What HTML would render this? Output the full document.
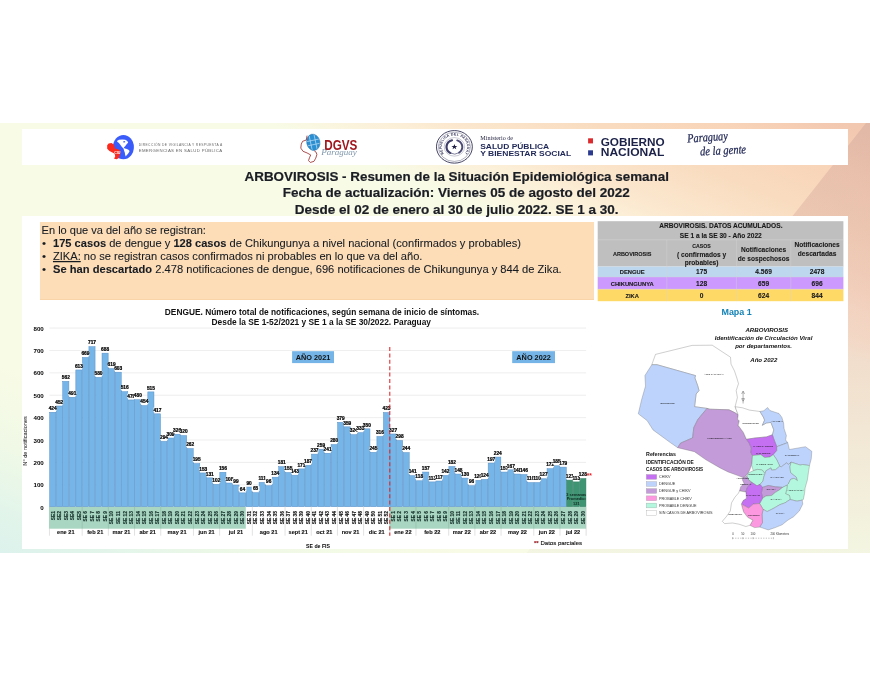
<!DOCTYPE html>
<html lang="es"><head><meta charset="utf-8"><title>ARBOVIROSIS - Resumen de la Situación Epidemiológica semanal</title>
<style>
html,body{margin:0;padding:0;background:#fff;}
body{width:870px;height:675px;position:relative;overflow:hidden;font-family:"Liberation Sans",sans-serif;}
.abs{position:absolute;}
#band{left:0;top:123px;width:870px;height:430px;background:linear-gradient(22deg,#dcf2ec 0%,#e3f5ea 6%,#f0f9e6 14%,#f8fbe6 24%,#f8fbe6 69%,#fbf3dc 73%,#fcefd8 75.4%,#fbe8cf 78%,#f9dcc0 85.6%,#f8d3b7 93%,#f2c8b0 98.6%);}
#tri{left:0;top:123px;width:870px;height:430px;background:linear-gradient(180deg,rgba(188,148,145,.30) 0%,rgba(225,145,137,.30) 50%,rgba(200,200,190,.10) 100%);clip-path:polygon(866px 0,870px 0,870px 430px,526.5px 430px);}
#hdr{left:22px;top:129px;width:826px;height:35.5px;background:#fff;}
#panel{left:22px;top:216px;width:826px;height:333px;background:#fff;}
#peach{left:40px;top:221.5px;width:554px;height:78.5px;background:#fcddb7;border-bottom:1px solid #f9d4a9;box-sizing:border-box;}
svg text{font-family:"Liberation Sans",sans-serif;}
.tt{font-size:13.45px;font-weight:bold;fill:#1a1d24;stroke:#1a1d24;stroke-width:0.2px;}
.pp{font-size:11.6px;fill:#171b22;stroke:#171b22;stroke-width:0.08px;}
.l1a{font-size:3.3px;fill:#6a6a6a;}
.l1b{font-size:4.3px;fill:#666;}
.dg{font-size:14.6px;font-weight:bold;fill:#a1161e;}
.dgp{font-size:7.4px;font-style:italic;fill:#7f97ab;font-family:"Liberation Serif",serif;}
.seal{font-size:3.3px;font-weight:bold;fill:#2a2a52;letter-spacing:0.22px;}
.mn{font-size:6.1px;fill:#2a2a48;font-family:"Liberation Serif",serif;}
.sp{font-size:7.7px;font-weight:bold;fill:#1f2757;}
.gb{font-size:10.3px;font-weight:bold;fill:#1b2148;}
.pg{font-size:12.3px;font-style:italic;fill:#1d2452;stroke:#1d2452;stroke-width:0.25px;font-family:"Liberation Serif",serif;}
.dl{font-size:2.45px;fill:#111;}
.mt{font-size:6.1px;font-weight:bold;font-style:italic;fill:#111;}
.lg1{font-size:5px;font-weight:bold;fill:#111;}
.lg2{font-size:4.7px;font-weight:bold;fill:#111;}
.lg3{font-size:3.75px;fill:#333;}
.sc{font-size:2.8px;fill:#333;}
.t1{stroke:#1a1a1a;stroke-width:0.1px;font-size:6.6px;font-weight:bold;fill:#1a1a1a;}
.t2{stroke:#1a1a1a;stroke-width:0.1px;font-size:5.5px;font-weight:bold;fill:#1a1a1a;}
.t3{stroke:#1a1a1a;stroke-width:0.1px;font-size:5.2px;font-weight:bold;fill:#1a1a1a;}
.t4{stroke:#1a1a1a;stroke-width:0.1px;font-size:5.8px;font-weight:bold;fill:#1a1a1a;}
.mp{font-size:8.95px;font-weight:bold;fill:#1583b5;}
.yl{font-size:6.2px;font-weight:bold;fill:#000;}
.vl{font-size:4.8px;font-weight:bold;fill:#000;stroke:#000;stroke-width:0.22px;}
.se{font-size:4.9px;font-weight:bold;fill:#15302a;stroke:#15302a;stroke-width:0.15px;}
.ml{font-size:5.6px;font-weight:bold;fill:#111;stroke:#111;stroke-width:0.1px;}
.yr{font-size:7.3px;font-weight:bold;fill:#111;}
.ct{font-size:8.35px;font-weight:bold;fill:#111;}
.ax{font-size:5.6px;fill:#000;}
.dp{font-size:6.05px;fill:#111;stroke:#111;stroke-width:0.12px;}
.pm{font-size:3.9px;font-weight:bold;fill:#0c2a20;}
</style></head><body>
<div class="abs" id="band"></div><div class="abs" id="tri"></div>
<div class="abs" id="hdr"></div>
<div class="abs" id="panel"></div>
<div class="abs" id="peach"></div>
<svg class="abs" style="left:0;top:0" width="870" height="675" viewBox="0 0 870 675">
<line x1="49.45" y1="484.81" x2="586.14" y2="484.81" stroke="#e3e3e3" stroke-width="0.6"/>
<line x1="49.45" y1="462.42" x2="586.14" y2="462.42" stroke="#e3e3e3" stroke-width="0.6"/>
<line x1="49.45" y1="440.03" x2="586.14" y2="440.03" stroke="#e3e3e3" stroke-width="0.6"/>
<line x1="49.45" y1="417.64" x2="586.14" y2="417.64" stroke="#e3e3e3" stroke-width="0.6"/>
<line x1="49.45" y1="395.25" x2="586.14" y2="395.25" stroke="#e3e3e3" stroke-width="0.6"/>
<line x1="49.45" y1="372.86" x2="586.14" y2="372.86" stroke="#e3e3e3" stroke-width="0.6"/>
<line x1="49.45" y1="350.47" x2="586.14" y2="350.47" stroke="#e3e3e3" stroke-width="0.6"/>
<line x1="49.45" y1="328.08" x2="586.14" y2="328.08" stroke="#e3e3e3" stroke-width="0.6"/>
<text x="43.8" y="509.75" text-anchor="end" class="yl">0</text>
<text x="43.8" y="487.36" text-anchor="end" class="yl">100</text>
<text x="43.8" y="464.97" text-anchor="end" class="yl">200</text>
<text x="43.8" y="442.58" text-anchor="end" class="yl">300</text>
<text x="43.8" y="420.19" text-anchor="end" class="yl">400</text>
<text x="43.8" y="397.80" text-anchor="end" class="yl">500</text>
<text x="43.8" y="375.41" text-anchor="end" class="yl">600</text>
<text x="43.8" y="353.02" text-anchor="end" class="yl">700</text>
<text x="43.8" y="330.63" text-anchor="end" class="yl">800</text>
<rect x="49.45" y="506.70" width="196.35" height="22" fill="#a9d6c2"/>
<rect x="389.79" y="506.70" width="196.35" height="22" fill="#a9d6c2"/>
<rect x="49.65" y="412.27" width="6.14" height="94.43" fill="#75b5e7" stroke="#5a8fc6" stroke-width="0.5"/>
<rect x="56.20" y="406.00" width="6.14" height="100.70" fill="#75b5e7" stroke="#5a8fc6" stroke-width="0.5"/>
<rect x="62.74" y="381.37" width="6.14" height="125.33" fill="#75b5e7" stroke="#5a8fc6" stroke-width="0.5"/>
<rect x="69.29" y="397.27" width="6.14" height="109.43" fill="#75b5e7" stroke="#5a8fc6" stroke-width="0.5"/>
<rect x="75.83" y="369.95" width="6.14" height="136.75" fill="#75b5e7" stroke="#5a8fc6" stroke-width="0.5"/>
<rect x="82.38" y="357.41" width="6.14" height="149.29" fill="#75b5e7" stroke="#5a8fc6" stroke-width="0.5"/>
<rect x="88.92" y="346.66" width="6.14" height="160.04" fill="#75b5e7" stroke="#5a8fc6" stroke-width="0.5"/>
<rect x="95.47" y="377.34" width="6.14" height="129.36" fill="#75b5e7" stroke="#5a8fc6" stroke-width="0.5"/>
<rect x="102.01" y="353.16" width="6.14" height="153.54" fill="#75b5e7" stroke="#5a8fc6" stroke-width="0.5"/>
<rect x="108.56" y="368.61" width="6.14" height="138.09" fill="#75b5e7" stroke="#5a8fc6" stroke-width="0.5"/>
<rect x="115.10" y="372.19" width="6.14" height="134.51" fill="#75b5e7" stroke="#5a8fc6" stroke-width="0.5"/>
<rect x="121.65" y="391.67" width="6.14" height="115.03" fill="#75b5e7" stroke="#5a8fc6" stroke-width="0.5"/>
<rect x="128.19" y="399.95" width="6.14" height="106.75" fill="#75b5e7" stroke="#5a8fc6" stroke-width="0.5"/>
<rect x="134.73" y="399.73" width="6.14" height="106.97" fill="#75b5e7" stroke="#5a8fc6" stroke-width="0.5"/>
<rect x="141.28" y="405.55" width="6.14" height="101.15" fill="#75b5e7" stroke="#5a8fc6" stroke-width="0.5"/>
<rect x="147.82" y="391.89" width="6.14" height="114.81" fill="#75b5e7" stroke="#5a8fc6" stroke-width="0.5"/>
<rect x="154.37" y="413.83" width="6.14" height="92.87" fill="#75b5e7" stroke="#5a8fc6" stroke-width="0.5"/>
<rect x="160.91" y="441.37" width="6.14" height="65.33" fill="#75b5e7" stroke="#5a8fc6" stroke-width="0.5"/>
<rect x="167.46" y="438.01" width="6.14" height="68.69" fill="#75b5e7" stroke="#5a8fc6" stroke-width="0.5"/>
<rect x="174.00" y="434.21" width="6.14" height="72.49" fill="#75b5e7" stroke="#5a8fc6" stroke-width="0.5"/>
<rect x="180.55" y="435.55" width="6.14" height="71.15" fill="#75b5e7" stroke="#5a8fc6" stroke-width="0.5"/>
<rect x="187.09" y="448.54" width="6.14" height="58.16" fill="#75b5e7" stroke="#5a8fc6" stroke-width="0.5"/>
<rect x="193.64" y="463.54" width="6.14" height="43.16" fill="#75b5e7" stroke="#5a8fc6" stroke-width="0.5"/>
<rect x="200.19" y="472.94" width="6.14" height="33.76" fill="#75b5e7" stroke="#5a8fc6" stroke-width="0.5"/>
<rect x="206.73" y="477.87" width="6.14" height="28.83" fill="#75b5e7" stroke="#5a8fc6" stroke-width="0.5"/>
<rect x="213.27" y="484.36" width="6.14" height="22.34" fill="#75b5e7" stroke="#5a8fc6" stroke-width="0.5"/>
<rect x="219.82" y="472.27" width="6.14" height="34.43" fill="#75b5e7" stroke="#5a8fc6" stroke-width="0.5"/>
<rect x="226.37" y="483.02" width="6.14" height="23.68" fill="#75b5e7" stroke="#5a8fc6" stroke-width="0.5"/>
<rect x="232.91" y="485.03" width="6.14" height="21.67" fill="#75b5e7" stroke="#5a8fc6" stroke-width="0.5"/>
<rect x="239.45" y="492.87" width="6.14" height="13.83" fill="#75b5e7" stroke="#5a8fc6" stroke-width="0.5"/>
<rect x="246.00" y="487.05" width="6.14" height="19.65" fill="#75b5e7" stroke="#5a8fc6" stroke-width="0.5"/>
<rect x="252.55" y="492.65" width="6.14" height="14.05" fill="#75b5e7" stroke="#5a8fc6" stroke-width="0.5"/>
<rect x="259.09" y="482.35" width="6.14" height="24.35" fill="#75b5e7" stroke="#5a8fc6" stroke-width="0.5"/>
<rect x="265.63" y="485.71" width="6.14" height="20.99" fill="#75b5e7" stroke="#5a8fc6" stroke-width="0.5"/>
<rect x="272.18" y="477.20" width="6.14" height="29.50" fill="#75b5e7" stroke="#5a8fc6" stroke-width="0.5"/>
<rect x="278.72" y="466.67" width="6.14" height="40.03" fill="#75b5e7" stroke="#5a8fc6" stroke-width="0.5"/>
<rect x="285.27" y="472.50" width="6.14" height="34.20" fill="#75b5e7" stroke="#5a8fc6" stroke-width="0.5"/>
<rect x="291.81" y="475.18" width="6.14" height="31.52" fill="#75b5e7" stroke="#5a8fc6" stroke-width="0.5"/>
<rect x="298.36" y="468.91" width="6.14" height="37.79" fill="#75b5e7" stroke="#5a8fc6" stroke-width="0.5"/>
<rect x="304.90" y="465.33" width="6.14" height="41.37" fill="#75b5e7" stroke="#5a8fc6" stroke-width="0.5"/>
<rect x="311.45" y="454.14" width="6.14" height="52.56" fill="#75b5e7" stroke="#5a8fc6" stroke-width="0.5"/>
<rect x="317.99" y="449.21" width="6.14" height="57.49" fill="#75b5e7" stroke="#5a8fc6" stroke-width="0.5"/>
<rect x="324.54" y="453.24" width="6.14" height="53.46" fill="#75b5e7" stroke="#5a8fc6" stroke-width="0.5"/>
<rect x="331.08" y="444.51" width="6.14" height="62.19" fill="#75b5e7" stroke="#5a8fc6" stroke-width="0.5"/>
<rect x="337.63" y="422.34" width="6.14" height="84.36" fill="#75b5e7" stroke="#5a8fc6" stroke-width="0.5"/>
<rect x="344.17" y="426.82" width="6.14" height="79.88" fill="#75b5e7" stroke="#5a8fc6" stroke-width="0.5"/>
<rect x="350.72" y="434.66" width="6.14" height="72.04" fill="#75b5e7" stroke="#5a8fc6" stroke-width="0.5"/>
<rect x="357.26" y="432.64" width="6.14" height="74.06" fill="#75b5e7" stroke="#5a8fc6" stroke-width="0.5"/>
<rect x="363.81" y="428.83" width="6.14" height="77.87" fill="#75b5e7" stroke="#5a8fc6" stroke-width="0.5"/>
<rect x="370.35" y="452.34" width="6.14" height="54.36" fill="#75b5e7" stroke="#5a8fc6" stroke-width="0.5"/>
<rect x="376.90" y="436.45" width="6.14" height="70.25" fill="#75b5e7" stroke="#5a8fc6" stroke-width="0.5"/>
<rect x="383.44" y="412.49" width="6.14" height="94.21" fill="#75b5e7" stroke="#5a8fc6" stroke-width="0.5"/>
<rect x="389.99" y="433.98" width="6.14" height="72.72" fill="#75b5e7" stroke="#5a8fc6" stroke-width="0.5"/>
<rect x="396.53" y="440.48" width="6.14" height="66.22" fill="#75b5e7" stroke="#5a8fc6" stroke-width="0.5"/>
<rect x="403.08" y="452.57" width="6.14" height="54.13" fill="#75b5e7" stroke="#5a8fc6" stroke-width="0.5"/>
<rect x="409.62" y="475.63" width="6.14" height="31.07" fill="#75b5e7" stroke="#5a8fc6" stroke-width="0.5"/>
<rect x="416.17" y="480.78" width="6.14" height="25.92" fill="#75b5e7" stroke="#5a8fc6" stroke-width="0.5"/>
<rect x="422.71" y="472.05" width="6.14" height="34.65" fill="#75b5e7" stroke="#5a8fc6" stroke-width="0.5"/>
<rect x="429.26" y="481.90" width="6.14" height="24.80" fill="#75b5e7" stroke="#5a8fc6" stroke-width="0.5"/>
<rect x="435.80" y="481.00" width="6.14" height="25.70" fill="#75b5e7" stroke="#5a8fc6" stroke-width="0.5"/>
<rect x="442.35" y="475.41" width="6.14" height="31.29" fill="#75b5e7" stroke="#5a8fc6" stroke-width="0.5"/>
<rect x="448.89" y="466.45" width="6.14" height="40.25" fill="#75b5e7" stroke="#5a8fc6" stroke-width="0.5"/>
<rect x="455.44" y="474.06" width="6.14" height="32.64" fill="#75b5e7" stroke="#5a8fc6" stroke-width="0.5"/>
<rect x="461.98" y="478.09" width="6.14" height="28.61" fill="#75b5e7" stroke="#5a8fc6" stroke-width="0.5"/>
<rect x="468.53" y="485.71" width="6.14" height="20.99" fill="#75b5e7" stroke="#5a8fc6" stroke-width="0.5"/>
<rect x="475.07" y="480.33" width="6.14" height="26.37" fill="#75b5e7" stroke="#5a8fc6" stroke-width="0.5"/>
<rect x="481.62" y="479.44" width="6.14" height="27.26" fill="#75b5e7" stroke="#5a8fc6" stroke-width="0.5"/>
<rect x="488.16" y="463.09" width="6.14" height="43.61" fill="#75b5e7" stroke="#5a8fc6" stroke-width="0.5"/>
<rect x="494.71" y="457.05" width="6.14" height="49.65" fill="#75b5e7" stroke="#5a8fc6" stroke-width="0.5"/>
<rect x="501.25" y="472.05" width="6.14" height="34.65" fill="#75b5e7" stroke="#5a8fc6" stroke-width="0.5"/>
<rect x="507.80" y="469.81" width="6.14" height="36.89" fill="#75b5e7" stroke="#5a8fc6" stroke-width="0.5"/>
<rect x="514.35" y="474.06" width="6.14" height="32.64" fill="#75b5e7" stroke="#5a8fc6" stroke-width="0.5"/>
<rect x="520.89" y="474.51" width="6.14" height="32.19" fill="#75b5e7" stroke="#5a8fc6" stroke-width="0.5"/>
<rect x="527.44" y="482.57" width="6.14" height="24.13" fill="#75b5e7" stroke="#5a8fc6" stroke-width="0.5"/>
<rect x="533.98" y="482.57" width="6.14" height="24.13" fill="#75b5e7" stroke="#5a8fc6" stroke-width="0.5"/>
<rect x="540.53" y="478.76" width="6.14" height="27.94" fill="#75b5e7" stroke="#5a8fc6" stroke-width="0.5"/>
<rect x="547.07" y="468.69" width="6.14" height="38.01" fill="#75b5e7" stroke="#5a8fc6" stroke-width="0.5"/>
<rect x="553.62" y="465.78" width="6.14" height="40.92" fill="#75b5e7" stroke="#5a8fc6" stroke-width="0.5"/>
<rect x="560.16" y="467.12" width="6.14" height="39.58" fill="#75b5e7" stroke="#5a8fc6" stroke-width="0.5"/>
<rect x="566.71" y="480.11" width="6.14" height="26.59" fill="#3e9473" stroke="#357f66" stroke-width="0.5"/>
<rect x="573.25" y="481.90" width="6.14" height="24.80" fill="#3e9473" stroke="#357f66" stroke-width="0.5"/>
<rect x="579.80" y="478.54" width="6.14" height="28.16" fill="#3e9473" stroke="#357f66" stroke-width="0.5"/>
<rect x="48.82" y="405.97" width="7.8" height="4.7" fill="#fff"/><text x="52.72" y="409.97" text-anchor="middle" class="vl">424</text>
<rect x="55.37" y="399.70" width="7.8" height="4.7" fill="#fff"/><text x="59.27" y="403.70" text-anchor="middle" class="vl">452</text>
<rect x="61.91" y="375.07" width="7.8" height="4.7" fill="#fff"/><text x="65.81" y="379.07" text-anchor="middle" class="vl">562</text>
<rect x="68.46" y="390.97" width="7.8" height="4.7" fill="#fff"/><text x="72.36" y="394.97" text-anchor="middle" class="vl">491</text>
<rect x="75.00" y="363.65" width="7.8" height="4.7" fill="#fff"/><text x="78.90" y="367.65" text-anchor="middle" class="vl">613</text>
<rect x="81.55" y="351.11" width="7.8" height="4.7" fill="#fff"/><text x="85.45" y="355.11" text-anchor="middle" class="vl">669</text>
<rect x="88.09" y="340.36" width="7.8" height="4.7" fill="#fff"/><text x="91.99" y="344.36" text-anchor="middle" class="vl">717</text>
<rect x="94.64" y="371.04" width="7.8" height="4.7" fill="#fff"/><text x="98.54" y="375.04" text-anchor="middle" class="vl">580</text>
<rect x="101.18" y="346.86" width="7.8" height="4.7" fill="#fff"/><text x="105.08" y="350.86" text-anchor="middle" class="vl">688</text>
<rect x="107.73" y="362.31" width="7.8" height="4.7" fill="#fff"/><text x="111.63" y="366.31" text-anchor="middle" class="vl">619</text>
<rect x="114.27" y="365.89" width="7.8" height="4.7" fill="#fff"/><text x="118.17" y="369.89" text-anchor="middle" class="vl">603</text>
<rect x="120.82" y="385.37" width="7.8" height="4.7" fill="#fff"/><text x="124.72" y="389.37" text-anchor="middle" class="vl">516</text>
<rect x="127.36" y="393.65" width="7.8" height="4.7" fill="#fff"/><text x="131.26" y="397.65" text-anchor="middle" class="vl">479</text>
<rect x="133.91" y="393.43" width="7.8" height="4.7" fill="#fff"/><text x="137.81" y="397.43" text-anchor="middle" class="vl">480</text>
<rect x="140.45" y="399.25" width="7.8" height="4.7" fill="#fff"/><text x="144.35" y="403.25" text-anchor="middle" class="vl">454</text>
<rect x="147.00" y="385.59" width="7.8" height="4.7" fill="#fff"/><text x="150.90" y="389.59" text-anchor="middle" class="vl">515</text>
<rect x="153.54" y="407.53" width="7.8" height="4.7" fill="#fff"/><text x="157.44" y="411.53" text-anchor="middle" class="vl">417</text>
<rect x="160.09" y="435.07" width="7.8" height="4.7" fill="#fff"/><text x="163.99" y="439.07" text-anchor="middle" class="vl">294</text>
<rect x="166.63" y="431.71" width="7.8" height="4.7" fill="#fff"/><text x="170.53" y="435.71" text-anchor="middle" class="vl">309</text>
<rect x="173.18" y="427.91" width="7.8" height="4.7" fill="#fff"/><text x="177.08" y="431.91" text-anchor="middle" class="vl">326</text>
<rect x="179.72" y="429.25" width="7.8" height="4.7" fill="#fff"/><text x="183.62" y="433.25" text-anchor="middle" class="vl">320</text>
<rect x="186.27" y="442.24" width="7.8" height="4.7" fill="#fff"/><text x="190.17" y="446.24" text-anchor="middle" class="vl">262</text>
<rect x="192.81" y="457.24" width="7.8" height="4.7" fill="#fff"/><text x="196.71" y="461.24" text-anchor="middle" class="vl">195</text>
<rect x="199.36" y="466.64" width="7.8" height="4.7" fill="#fff"/><text x="203.26" y="470.64" text-anchor="middle" class="vl">153</text>
<rect x="205.90" y="471.57" width="7.8" height="4.7" fill="#fff"/><text x="209.80" y="475.57" text-anchor="middle" class="vl">131</text>
<rect x="212.45" y="478.06" width="7.8" height="4.7" fill="#fff"/><text x="216.35" y="482.06" text-anchor="middle" class="vl">102</text>
<rect x="218.99" y="465.97" width="7.8" height="4.7" fill="#fff"/><text x="222.89" y="469.97" text-anchor="middle" class="vl">156</text>
<rect x="225.54" y="476.72" width="7.8" height="4.7" fill="#fff"/><text x="229.44" y="480.72" text-anchor="middle" class="vl">108</text>
<rect x="232.08" y="478.73" width="7.8" height="4.7" fill="#fff"/><text x="235.98" y="482.73" text-anchor="middle" class="vl">99</text>
<rect x="238.63" y="486.57" width="7.8" height="4.7" fill="#fff"/><text x="242.53" y="490.57" text-anchor="middle" class="vl">64</text>
<rect x="245.17" y="480.75" width="7.8" height="4.7" fill="#fff"/><text x="249.07" y="484.75" text-anchor="middle" class="vl">90</text>
<rect x="251.72" y="486.35" width="7.8" height="4.7" fill="#fff"/><text x="255.62" y="490.35" text-anchor="middle" class="vl">65</text>
<rect x="258.26" y="476.05" width="7.8" height="4.7" fill="#fff"/><text x="262.16" y="480.05" text-anchor="middle" class="vl">111</text>
<rect x="264.81" y="479.41" width="7.8" height="4.7" fill="#fff"/><text x="268.71" y="483.41" text-anchor="middle" class="vl">96</text>
<rect x="271.35" y="470.90" width="7.8" height="4.7" fill="#fff"/><text x="275.25" y="474.90" text-anchor="middle" class="vl">134</text>
<rect x="277.90" y="460.37" width="7.8" height="4.7" fill="#fff"/><text x="281.80" y="464.37" text-anchor="middle" class="vl">181</text>
<rect x="284.44" y="466.20" width="7.8" height="4.7" fill="#fff"/><text x="288.34" y="470.20" text-anchor="middle" class="vl">155</text>
<rect x="290.99" y="468.88" width="7.8" height="4.7" fill="#fff"/><text x="294.89" y="472.88" text-anchor="middle" class="vl">143</text>
<rect x="297.53" y="462.61" width="7.8" height="4.7" fill="#fff"/><text x="301.43" y="466.61" text-anchor="middle" class="vl">171</text>
<rect x="304.08" y="459.03" width="7.8" height="4.7" fill="#fff"/><text x="307.98" y="463.03" text-anchor="middle" class="vl">187</text>
<rect x="310.62" y="447.84" width="7.8" height="4.7" fill="#fff"/><text x="314.52" y="451.84" text-anchor="middle" class="vl">237</text>
<rect x="317.17" y="442.91" width="7.8" height="4.7" fill="#fff"/><text x="321.07" y="446.91" text-anchor="middle" class="vl">259</text>
<rect x="323.71" y="446.94" width="7.8" height="4.7" fill="#fff"/><text x="327.61" y="450.94" text-anchor="middle" class="vl">241</text>
<rect x="330.26" y="438.21" width="7.8" height="4.7" fill="#fff"/><text x="334.16" y="442.21" text-anchor="middle" class="vl">280</text>
<rect x="336.80" y="416.04" width="7.8" height="4.7" fill="#fff"/><text x="340.70" y="420.04" text-anchor="middle" class="vl">379</text>
<rect x="343.35" y="420.52" width="7.8" height="4.7" fill="#fff"/><text x="347.25" y="424.52" text-anchor="middle" class="vl">359</text>
<rect x="349.89" y="428.36" width="7.8" height="4.7" fill="#fff"/><text x="353.79" y="432.36" text-anchor="middle" class="vl">324</text>
<rect x="356.44" y="426.34" width="7.8" height="4.7" fill="#fff"/><text x="360.34" y="430.34" text-anchor="middle" class="vl">333</text>
<rect x="362.98" y="422.53" width="7.8" height="4.7" fill="#fff"/><text x="366.88" y="426.53" text-anchor="middle" class="vl">350</text>
<rect x="369.53" y="446.04" width="7.8" height="4.7" fill="#fff"/><text x="373.43" y="450.04" text-anchor="middle" class="vl">245</text>
<rect x="376.07" y="430.15" width="7.8" height="4.7" fill="#fff"/><text x="379.97" y="434.15" text-anchor="middle" class="vl">316</text>
<rect x="382.62" y="406.19" width="7.8" height="4.7" fill="#fff"/><text x="386.52" y="410.19" text-anchor="middle" class="vl">423</text>
<rect x="389.16" y="427.68" width="7.8" height="4.7" fill="#fff"/><text x="393.06" y="431.68" text-anchor="middle" class="vl">327</text>
<rect x="395.71" y="434.18" width="7.8" height="4.7" fill="#fff"/><text x="399.61" y="438.18" text-anchor="middle" class="vl">298</text>
<rect x="402.25" y="446.27" width="7.8" height="4.7" fill="#fff"/><text x="406.15" y="450.27" text-anchor="middle" class="vl">244</text>
<rect x="408.80" y="469.33" width="7.8" height="4.7" fill="#fff"/><text x="412.70" y="473.33" text-anchor="middle" class="vl">141</text>
<rect x="415.34" y="474.48" width="7.8" height="4.7" fill="#fff"/><text x="419.24" y="478.48" text-anchor="middle" class="vl">118</text>
<rect x="421.89" y="465.75" width="7.8" height="4.7" fill="#fff"/><text x="425.79" y="469.75" text-anchor="middle" class="vl">157</text>
<rect x="428.43" y="475.60" width="7.8" height="4.7" fill="#fff"/><text x="432.33" y="479.60" text-anchor="middle" class="vl">113</text>
<rect x="434.98" y="474.70" width="7.8" height="4.7" fill="#fff"/><text x="438.88" y="478.70" text-anchor="middle" class="vl">117</text>
<rect x="441.52" y="469.11" width="7.8" height="4.7" fill="#fff"/><text x="445.42" y="473.11" text-anchor="middle" class="vl">142</text>
<rect x="448.07" y="460.15" width="7.8" height="4.7" fill="#fff"/><text x="451.97" y="464.15" text-anchor="middle" class="vl">182</text>
<rect x="454.61" y="467.76" width="7.8" height="4.7" fill="#fff"/><text x="458.51" y="471.76" text-anchor="middle" class="vl">148</text>
<rect x="461.16" y="471.79" width="7.8" height="4.7" fill="#fff"/><text x="465.06" y="475.79" text-anchor="middle" class="vl">130</text>
<rect x="467.70" y="479.41" width="7.8" height="4.7" fill="#fff"/><text x="471.60" y="483.41" text-anchor="middle" class="vl">96</text>
<rect x="474.25" y="474.03" width="7.8" height="4.7" fill="#fff"/><text x="478.15" y="478.03" text-anchor="middle" class="vl">120</text>
<rect x="480.79" y="473.14" width="7.8" height="4.7" fill="#fff"/><text x="484.69" y="477.14" text-anchor="middle" class="vl">124</text>
<rect x="487.34" y="456.79" width="7.8" height="4.7" fill="#fff"/><text x="491.24" y="460.79" text-anchor="middle" class="vl">197</text>
<rect x="493.88" y="450.75" width="7.8" height="4.7" fill="#fff"/><text x="497.78" y="454.75" text-anchor="middle" class="vl">224</text>
<rect x="500.43" y="465.75" width="7.8" height="4.7" fill="#fff"/><text x="504.33" y="469.75" text-anchor="middle" class="vl">157</text>
<rect x="506.97" y="463.51" width="7.8" height="4.7" fill="#fff"/><text x="510.87" y="467.51" text-anchor="middle" class="vl">167</text>
<rect x="513.52" y="467.76" width="7.8" height="4.7" fill="#fff"/><text x="517.42" y="471.76" text-anchor="middle" class="vl">148</text>
<rect x="520.06" y="468.21" width="7.8" height="4.7" fill="#fff"/><text x="523.96" y="472.21" text-anchor="middle" class="vl">146</text>
<rect x="526.61" y="476.27" width="7.8" height="4.7" fill="#fff"/><text x="530.51" y="480.27" text-anchor="middle" class="vl">110</text>
<rect x="533.15" y="476.27" width="7.8" height="4.7" fill="#fff"/><text x="537.05" y="480.27" text-anchor="middle" class="vl">110</text>
<rect x="539.70" y="472.46" width="7.8" height="4.7" fill="#fff"/><text x="543.60" y="476.46" text-anchor="middle" class="vl">127</text>
<rect x="546.24" y="462.39" width="7.8" height="4.7" fill="#fff"/><text x="550.14" y="466.39" text-anchor="middle" class="vl">172</text>
<rect x="552.79" y="459.48" width="7.8" height="4.7" fill="#fff"/><text x="556.69" y="463.48" text-anchor="middle" class="vl">185</text>
<rect x="559.33" y="460.82" width="7.8" height="4.7" fill="#fff"/><text x="563.23" y="464.82" text-anchor="middle" class="vl">179</text>
<rect x="565.88" y="473.81" width="7.8" height="4.7" fill="#fff"/><text x="569.78" y="477.81" text-anchor="middle" class="vl">121</text>
<rect x="572.42" y="475.60" width="7.8" height="4.7" fill="#fff"/><text x="576.32" y="479.60" text-anchor="middle" class="vl">113</text>
<rect x="578.97" y="472.24" width="7.8" height="4.7" fill="#fff"/><text x="582.87" y="476.24" text-anchor="middle" class="vl">128</text>
<text transform="translate(54.52,511.00) rotate(-90)" text-anchor="end" class="se">SE1</text>
<text transform="translate(61.07,511.00) rotate(-90)" text-anchor="end" class="se">SE2</text>
<text transform="translate(67.61,511.00) rotate(-90)" text-anchor="end" class="se">SE3</text>
<text transform="translate(74.16,511.00) rotate(-90)" text-anchor="end" class="se">SE4</text>
<text transform="translate(80.70,511.00) rotate(-90)" text-anchor="end" class="se">SE5</text>
<text transform="translate(87.25,511.00) rotate(-90)" text-anchor="end" class="se">SE 6</text>
<text transform="translate(93.79,511.00) rotate(-90)" text-anchor="end" class="se">SE 7</text>
<text transform="translate(100.34,511.00) rotate(-90)" text-anchor="end" class="se">SE 8</text>
<text transform="translate(106.88,511.00) rotate(-90)" text-anchor="end" class="se">SE 9</text>
<text transform="translate(113.43,511.00) rotate(-90)" text-anchor="end" class="se">SE 10</text>
<text transform="translate(119.97,511.00) rotate(-90)" text-anchor="end" class="se">SE 11</text>
<text transform="translate(126.52,511.00) rotate(-90)" text-anchor="end" class="se">SE 12</text>
<text transform="translate(133.06,511.00) rotate(-90)" text-anchor="end" class="se">SE 13</text>
<text transform="translate(139.61,511.00) rotate(-90)" text-anchor="end" class="se">SE 14</text>
<text transform="translate(146.15,511.00) rotate(-90)" text-anchor="end" class="se">SE 15</text>
<text transform="translate(152.70,511.00) rotate(-90)" text-anchor="end" class="se">SE 16</text>
<text transform="translate(159.24,511.00) rotate(-90)" text-anchor="end" class="se">SE 17</text>
<text transform="translate(165.79,511.00) rotate(-90)" text-anchor="end" class="se">SE 18</text>
<text transform="translate(172.33,511.00) rotate(-90)" text-anchor="end" class="se">SE 19</text>
<text transform="translate(178.88,511.00) rotate(-90)" text-anchor="end" class="se">SE 20</text>
<text transform="translate(185.42,511.00) rotate(-90)" text-anchor="end" class="se">SE 21</text>
<text transform="translate(191.97,511.00) rotate(-90)" text-anchor="end" class="se">SE 22</text>
<text transform="translate(198.51,511.00) rotate(-90)" text-anchor="end" class="se">SE 23</text>
<text transform="translate(205.06,511.00) rotate(-90)" text-anchor="end" class="se">SE 24</text>
<text transform="translate(211.60,511.00) rotate(-90)" text-anchor="end" class="se">SE 25</text>
<text transform="translate(218.15,511.00) rotate(-90)" text-anchor="end" class="se">SE 26</text>
<text transform="translate(224.69,511.00) rotate(-90)" text-anchor="end" class="se">SE 27</text>
<text transform="translate(231.24,511.00) rotate(-90)" text-anchor="end" class="se">SE 28</text>
<text transform="translate(237.78,511.00) rotate(-90)" text-anchor="end" class="se">SE 29</text>
<text transform="translate(244.33,511.00) rotate(-90)" text-anchor="end" class="se">SE 30</text>
<text transform="translate(250.87,511.00) rotate(-90)" text-anchor="end" class="se" style="fill:#111;stroke:#111">SE 31</text>
<text transform="translate(257.42,511.00) rotate(-90)" text-anchor="end" class="se" style="fill:#111;stroke:#111">SE 32</text>
<text transform="translate(263.96,511.00) rotate(-90)" text-anchor="end" class="se" style="fill:#111;stroke:#111">SE 33</text>
<text transform="translate(270.51,511.00) rotate(-90)" text-anchor="end" class="se" style="fill:#111;stroke:#111">SE 34</text>
<text transform="translate(277.05,511.00) rotate(-90)" text-anchor="end" class="se" style="fill:#111;stroke:#111">SE 35</text>
<text transform="translate(283.60,511.00) rotate(-90)" text-anchor="end" class="se" style="fill:#111;stroke:#111">SE 36</text>
<text transform="translate(290.14,511.00) rotate(-90)" text-anchor="end" class="se" style="fill:#111;stroke:#111">SE 37</text>
<text transform="translate(296.69,511.00) rotate(-90)" text-anchor="end" class="se" style="fill:#111;stroke:#111">SE 38</text>
<text transform="translate(303.23,511.00) rotate(-90)" text-anchor="end" class="se" style="fill:#111;stroke:#111">SE 39</text>
<text transform="translate(309.78,511.00) rotate(-90)" text-anchor="end" class="se" style="fill:#111;stroke:#111">SE 40</text>
<text transform="translate(316.32,511.00) rotate(-90)" text-anchor="end" class="se" style="fill:#111;stroke:#111">SE 41</text>
<text transform="translate(322.87,511.00) rotate(-90)" text-anchor="end" class="se" style="fill:#111;stroke:#111">SE 42</text>
<text transform="translate(329.41,511.00) rotate(-90)" text-anchor="end" class="se" style="fill:#111;stroke:#111">SE 43</text>
<text transform="translate(335.96,511.00) rotate(-90)" text-anchor="end" class="se" style="fill:#111;stroke:#111">SE 44</text>
<text transform="translate(342.50,511.00) rotate(-90)" text-anchor="end" class="se" style="fill:#111;stroke:#111">SE 45</text>
<text transform="translate(349.05,511.00) rotate(-90)" text-anchor="end" class="se" style="fill:#111;stroke:#111">SE 46</text>
<text transform="translate(355.59,511.00) rotate(-90)" text-anchor="end" class="se" style="fill:#111;stroke:#111">SE 47</text>
<text transform="translate(362.14,511.00) rotate(-90)" text-anchor="end" class="se" style="fill:#111;stroke:#111">SE 48</text>
<text transform="translate(368.68,511.00) rotate(-90)" text-anchor="end" class="se" style="fill:#111;stroke:#111">SE 49</text>
<text transform="translate(375.23,511.00) rotate(-90)" text-anchor="end" class="se" style="fill:#111;stroke:#111">SE 50</text>
<text transform="translate(381.77,511.00) rotate(-90)" text-anchor="end" class="se" style="fill:#111;stroke:#111">SE 51</text>
<text transform="translate(388.32,511.00) rotate(-90)" text-anchor="end" class="se" style="fill:#111;stroke:#111">SE 52</text>
<text transform="translate(394.86,511.00) rotate(-90)" text-anchor="end" class="se">SE 1</text>
<text transform="translate(401.41,511.00) rotate(-90)" text-anchor="end" class="se">SE 2</text>
<text transform="translate(407.95,511.00) rotate(-90)" text-anchor="end" class="se">SE 3</text>
<text transform="translate(414.50,511.00) rotate(-90)" text-anchor="end" class="se">SE 4</text>
<text transform="translate(421.04,511.00) rotate(-90)" text-anchor="end" class="se">SE 5</text>
<text transform="translate(427.59,511.00) rotate(-90)" text-anchor="end" class="se">SE 6</text>
<text transform="translate(434.13,511.00) rotate(-90)" text-anchor="end" class="se">SE 7</text>
<text transform="translate(440.68,511.00) rotate(-90)" text-anchor="end" class="se">SE 8</text>
<text transform="translate(447.22,511.00) rotate(-90)" text-anchor="end" class="se">SE 9</text>
<text transform="translate(453.77,511.00) rotate(-90)" text-anchor="end" class="se">SE 10</text>
<text transform="translate(460.31,511.00) rotate(-90)" text-anchor="end" class="se">SE 11</text>
<text transform="translate(466.86,511.00) rotate(-90)" text-anchor="end" class="se">SE 12</text>
<text transform="translate(473.40,511.00) rotate(-90)" text-anchor="end" class="se">SE 13</text>
<text transform="translate(479.95,511.00) rotate(-90)" text-anchor="end" class="se">SE 14</text>
<text transform="translate(486.49,511.00) rotate(-90)" text-anchor="end" class="se">SE 15</text>
<text transform="translate(493.04,511.00) rotate(-90)" text-anchor="end" class="se">SE 16</text>
<text transform="translate(499.58,511.00) rotate(-90)" text-anchor="end" class="se">SE 17</text>
<text transform="translate(506.13,511.00) rotate(-90)" text-anchor="end" class="se">SE 18</text>
<text transform="translate(512.67,511.00) rotate(-90)" text-anchor="end" class="se">SE 19</text>
<text transform="translate(519.22,511.00) rotate(-90)" text-anchor="end" class="se">SE 20</text>
<text transform="translate(525.76,511.00) rotate(-90)" text-anchor="end" class="se">SE 21</text>
<text transform="translate(532.31,511.00) rotate(-90)" text-anchor="end" class="se">SE 22</text>
<text transform="translate(538.85,511.00) rotate(-90)" text-anchor="end" class="se">SE 23</text>
<text transform="translate(545.40,511.00) rotate(-90)" text-anchor="end" class="se">SE 24</text>
<text transform="translate(551.94,511.00) rotate(-90)" text-anchor="end" class="se">SE 25</text>
<text transform="translate(558.49,511.00) rotate(-90)" text-anchor="end" class="se">SE 26</text>
<text transform="translate(565.03,511.00) rotate(-90)" text-anchor="end" class="se">SE 27</text>
<text transform="translate(571.58,511.00) rotate(-90)" text-anchor="end" class="se">SE 28</text>
<text transform="translate(578.12,511.00) rotate(-90)" text-anchor="end" class="se">SE 29</text>
<text transform="translate(584.67,511.00) rotate(-90)" text-anchor="end" class="se">SE 30</text>
<line x1="49.45" y1="506.70" x2="49.45" y2="528.70" stroke="#8ab4a1" stroke-width="0.5"/>
<line x1="49.45" y1="528.70" x2="49.45" y2="535.70" stroke="#c4c4c4" stroke-width="0.5"/>
<text x="65.81" y="534.00" text-anchor="middle" class="ml">ene 21</text>
<line x1="82.18" y1="506.70" x2="82.18" y2="528.70" stroke="#8ab4a1" stroke-width="0.5"/>
<line x1="82.18" y1="528.70" x2="82.18" y2="535.70" stroke="#c4c4c4" stroke-width="0.5"/>
<text x="95.27" y="534.00" text-anchor="middle" class="ml">feb 21</text>
<line x1="108.36" y1="506.70" x2="108.36" y2="528.70" stroke="#8ab4a1" stroke-width="0.5"/>
<line x1="108.36" y1="528.70" x2="108.36" y2="535.70" stroke="#c4c4c4" stroke-width="0.5"/>
<text x="121.44" y="534.00" text-anchor="middle" class="ml">mar 21</text>
<line x1="134.53" y1="506.70" x2="134.53" y2="528.70" stroke="#8ab4a1" stroke-width="0.5"/>
<line x1="134.53" y1="528.70" x2="134.53" y2="535.70" stroke="#c4c4c4" stroke-width="0.5"/>
<text x="147.62" y="534.00" text-anchor="middle" class="ml">abr 21</text>
<line x1="160.72" y1="506.70" x2="160.72" y2="528.70" stroke="#8ab4a1" stroke-width="0.5"/>
<line x1="160.72" y1="528.70" x2="160.72" y2="535.70" stroke="#c4c4c4" stroke-width="0.5"/>
<text x="177.08" y="534.00" text-anchor="middle" class="ml">may 21</text>
<line x1="193.44" y1="506.70" x2="193.44" y2="528.70" stroke="#8ab4a1" stroke-width="0.5"/>
<line x1="193.44" y1="528.70" x2="193.44" y2="535.70" stroke="#c4c4c4" stroke-width="0.5"/>
<text x="206.53" y="534.00" text-anchor="middle" class="ml">jun 21</text>
<line x1="219.62" y1="506.70" x2="219.62" y2="528.70" stroke="#8ab4a1" stroke-width="0.5"/>
<line x1="219.62" y1="528.70" x2="219.62" y2="535.70" stroke="#c4c4c4" stroke-width="0.5"/>
<text x="235.98" y="534.00" text-anchor="middle" class="ml">jul 21</text>
<line x1="252.35" y1="506.70" x2="252.35" y2="528.70" stroke="#c4c4c4" stroke-width="0.5"/>
<line x1="252.35" y1="528.70" x2="252.35" y2="535.70" stroke="#c4c4c4" stroke-width="0.5"/>
<text x="268.71" y="534.00" text-anchor="middle" class="ml">ago 21</text>
<line x1="285.07" y1="506.70" x2="285.07" y2="528.70" stroke="#c4c4c4" stroke-width="0.5"/>
<line x1="285.07" y1="528.70" x2="285.07" y2="535.70" stroke="#c4c4c4" stroke-width="0.5"/>
<text x="298.16" y="534.00" text-anchor="middle" class="ml">sept 21</text>
<line x1="311.25" y1="506.70" x2="311.25" y2="528.70" stroke="#c4c4c4" stroke-width="0.5"/>
<line x1="311.25" y1="528.70" x2="311.25" y2="535.70" stroke="#c4c4c4" stroke-width="0.5"/>
<text x="324.34" y="534.00" text-anchor="middle" class="ml">oct 21</text>
<line x1="337.43" y1="506.70" x2="337.43" y2="528.70" stroke="#c4c4c4" stroke-width="0.5"/>
<line x1="337.43" y1="528.70" x2="337.43" y2="535.70" stroke="#c4c4c4" stroke-width="0.5"/>
<text x="350.52" y="534.00" text-anchor="middle" class="ml">nov 21</text>
<line x1="363.61" y1="506.70" x2="363.61" y2="528.70" stroke="#c4c4c4" stroke-width="0.5"/>
<line x1="363.61" y1="528.70" x2="363.61" y2="535.70" stroke="#c4c4c4" stroke-width="0.5"/>
<text x="376.70" y="534.00" text-anchor="middle" class="ml">dic 21</text>
<line x1="389.79" y1="506.70" x2="389.79" y2="528.70" stroke="#8ab4a1" stroke-width="0.5"/>
<line x1="389.79" y1="528.70" x2="389.79" y2="535.70" stroke="#c4c4c4" stroke-width="0.5"/>
<text x="402.88" y="534.00" text-anchor="middle" class="ml">ene 22</text>
<line x1="415.97" y1="506.70" x2="415.97" y2="528.70" stroke="#8ab4a1" stroke-width="0.5"/>
<line x1="415.97" y1="528.70" x2="415.97" y2="535.70" stroke="#c4c4c4" stroke-width="0.5"/>
<text x="432.33" y="534.00" text-anchor="middle" class="ml">feb 22</text>
<line x1="448.69" y1="506.70" x2="448.69" y2="528.70" stroke="#8ab4a1" stroke-width="0.5"/>
<line x1="448.69" y1="528.70" x2="448.69" y2="535.70" stroke="#c4c4c4" stroke-width="0.5"/>
<text x="461.78" y="534.00" text-anchor="middle" class="ml">mar 22</text>
<line x1="474.88" y1="506.70" x2="474.88" y2="528.70" stroke="#8ab4a1" stroke-width="0.5"/>
<line x1="474.88" y1="528.70" x2="474.88" y2="535.70" stroke="#c4c4c4" stroke-width="0.5"/>
<text x="487.97" y="534.00" text-anchor="middle" class="ml">abr 22</text>
<line x1="501.06" y1="506.70" x2="501.06" y2="528.70" stroke="#8ab4a1" stroke-width="0.5"/>
<line x1="501.06" y1="528.70" x2="501.06" y2="535.70" stroke="#c4c4c4" stroke-width="0.5"/>
<text x="517.42" y="534.00" text-anchor="middle" class="ml">may 22</text>
<line x1="533.78" y1="506.70" x2="533.78" y2="528.70" stroke="#8ab4a1" stroke-width="0.5"/>
<line x1="533.78" y1="528.70" x2="533.78" y2="535.70" stroke="#c4c4c4" stroke-width="0.5"/>
<text x="546.87" y="534.00" text-anchor="middle" class="ml">jun 22</text>
<line x1="559.96" y1="506.70" x2="559.96" y2="528.70" stroke="#8ab4a1" stroke-width="0.5"/>
<line x1="559.96" y1="528.70" x2="559.96" y2="535.70" stroke="#c4c4c4" stroke-width="0.5"/>
<text x="573.05" y="534.00" text-anchor="middle" class="ml">jul 22</text>
<line x1="586.14" y1="506.70" x2="586.14" y2="535.70" stroke="#bdbdbd" stroke-width="0.5"/>
<line x1="389.79" y1="347" x2="389.79" y2="535.70" stroke="#dc242b" stroke-width="1.05" stroke-dasharray="4 2.4"/>
<rect x="292.1" y="351.2" width="41.9" height="11.9" fill="#74b4e6"/><text x="313.05" y="360" text-anchor="middle" class="yr">AÑO 2021</text>
<rect x="512.2" y="351.2" width="42.8" height="11.9" fill="#74b4e6"/><text x="533.6" y="360" text-anchor="middle" class="yr">AÑO 2022</text>
<text x="322" y="314.6" text-anchor="middle" class="ct">DENGUE. Número total de notificaciones, según semana de inicio de síntomas.</text>
<text x="321.3" y="324.6" text-anchor="middle" class="ct">Desde la SE 1-52/2021 y SE 1 a la SE 30/2022. Paraguay</text>
<text transform="translate(26.7,440.9) rotate(-90)" text-anchor="middle" class="ax">N° de notificaciones</text>
<text x="318" y="548.3" text-anchor="middle" class="ax" style="font-weight:bold;font-size:5.2px">SE de FIS</text>
<text x="534" y="544.6" class="dp"><tspan fill="#e0202a" font-weight="bold">**</tspan> Datos parciales</text>
<text x="586.74" y="477.6" style="font-size:6.6px;font-weight:bold;fill:#ee1c25">**</text>
<text x="576.32" y="495.5" text-anchor="middle" class="pm">3 semanas</text>
<text x="576.32" y="500.2" text-anchor="middle" class="pm">Promedio:</text>
<text x="576.32" y="505" text-anchor="middle" class="pm">121</text>
<text x="244.6" y="180.6" textLength="424.3" lengthAdjust="spacingAndGlyphs" class="tt">ARBOVIROSIS - Resumen de la Situación Epidemiológica semanal</text>
<text x="282.7" y="197.2" textLength="347.2" lengthAdjust="spacingAndGlyphs" class="tt">Fecha de actualización: Viernes 05 de agosto del 2022</text>
<text x="294.8" y="213.7" textLength="323.7" lengthAdjust="spacingAndGlyphs" class="tt">Desde el 02 de enero al 30 de julio 2022. SE 1 a 30.</text>
<text x="41.6" y="233.5" class="pp" textLength="164.3" lengthAdjust="spacingAndGlyphs">En lo que va del año se registran:</text>
<text x="41.9" y="246.8" class="pp">•</text><text x="53.0" y="246.8" class="pp" textLength="468" lengthAdjust="spacingAndGlyphs"><tspan font-weight="bold">175 casos</tspan> de dengue y <tspan font-weight="bold">128 casos</tspan> de Chikungunya a nivel nacional (confirmados y probables)</text>
<text x="41.9" y="260.0" class="pp">•</text><text x="53.0" y="260.0" class="pp" textLength="369.4" lengthAdjust="spacingAndGlyphs"><tspan text-decoration="underline">ZIKA:</tspan> no se registran casos confirmados ni probables en lo que va del año.</text>
<text x="41.9" y="273.4" class="pp">•</text><text x="53.0" y="273.4" class="pp" textLength="508.7" lengthAdjust="spacingAndGlyphs"><tspan font-weight="bold">Se han descartado</tspan> 2.478 notificaciones de dengue, 696 notificaciones de Chikungunya y 844 de Zika.</text>
<rect x="597.7" y="221.2" width="245.70" height="18.70" fill="#bfbfbf"/>
<rect x="597.7" y="239.9" width="245.70" height="26.50" fill="#bfbfbf"/>
<rect x="597.7" y="266.4" width="245.70" height="10.60" fill="#bdd7ee"/>
<rect x="597.7" y="277.0" width="245.70" height="12.20" fill="#cc99ff"/>
<rect x="597.7" y="289.2" width="245.70" height="12.00" fill="#ffd966"/>
<line x1="597.7" y1="239.9" x2="843.4" y2="239.9" stroke="#d4d4d4" stroke-width="0.5" stroke-opacity="0.8"/>
<line x1="597.7" y1="266.4" x2="843.4" y2="266.4" stroke="#d4d4d4" stroke-width="0.5" stroke-opacity="0.8"/>
<line x1="597.7" y1="277.0" x2="843.4" y2="277.0" stroke="#d4d4d4" stroke-width="0.5" stroke-opacity="0.8"/>
<line x1="597.7" y1="289.2" x2="843.4" y2="289.2" stroke="#d4d4d4" stroke-width="0.5" stroke-opacity="0.8"/>
<line x1="666.8" y1="239.9" x2="666.8" y2="301.2" stroke="#d4d4d4" stroke-width="0.5" stroke-opacity="0.8"/>
<line x1="736.4" y1="239.9" x2="736.4" y2="301.2" stroke="#d4d4d4" stroke-width="0.5" stroke-opacity="0.8"/>
<line x1="790.8" y1="239.9" x2="790.8" y2="301.2" stroke="#d4d4d4" stroke-width="0.5" stroke-opacity="0.8"/>
<text x="720.8" y="228.1" text-anchor="middle" class="t1">ARBOVIROSIS. DATOS ACUMULADOS.</text>
<text x="720.8" y="238.1" text-anchor="middle" class="t1">SE 1 a la SE 30 - Año 2022</text>
<text x="632.2" y="256.3" text-anchor="middle" class="t2">ARBOVIROSIS</text>
<text x="701.6" y="247.7" text-anchor="middle" class="t3">CASOS</text>
<text x="701.6" y="256.6" text-anchor="middle" class="t1">( confirmados y</text>
<text x="701.6" y="265.0" text-anchor="middle" class="t1">probables)</text>
<text x="763.6" y="252.4" text-anchor="middle" class="t1">Notificaciones</text>
<text x="763.6" y="260.7" text-anchor="middle" class="t1">de sospechosos</text>
<text x="817.1" y="247.3" text-anchor="middle" class="t1">Notificaciones</text>
<text x="817.1" y="255.9" text-anchor="middle" class="t1">descartadas</text>
<text x="632.2" y="274.0" text-anchor="middle" class="t4">DENGUE</text>
<text x="701.6" y="274.0" text-anchor="middle" class="t1">175</text>
<text x="763.6" y="274.0" text-anchor="middle" class="t1">4.569</text>
<text x="817.1" y="274.0" text-anchor="middle" class="t1">2478</text>
<text x="632.2" y="285.6" text-anchor="middle" class="t4">CHIKUNGUNYA</text>
<text x="701.6" y="285.6" text-anchor="middle" class="t1">128</text>
<text x="763.6" y="285.6" text-anchor="middle" class="t1">659</text>
<text x="817.1" y="285.6" text-anchor="middle" class="t1">696</text>
<text x="632.2" y="297.8" text-anchor="middle" class="t4">ZIKA</text>
<text x="701.6" y="297.8" text-anchor="middle" class="t1">0</text>
<text x="763.6" y="297.8" text-anchor="middle" class="t1">624</text>
<text x="817.1" y="297.8" text-anchor="middle" class="t1">844</text>
<text x="736.6" y="315.2" text-anchor="middle" class="mp">Mapa 1</text>
<polygon points="651.8,364.7 655.5,354.4 692.1,345.4 712.2,345.2 730.5,357.2 731.0,364.1 734.5,371.0 736.8,377.9 738.5,383.7 736.2,390.6 737.4,397.5 735.1,406.7 738.2,414.9 734.7,412.6 729.0,409.8 710.0,409.2 707.0,408.4 694.6,406.7 696.1,394.0 699.0,390.6 697.8,386.0 694.9,377.9 695.5,375.6 657.0,364.7" fill="#ffffff" stroke="#666" stroke-width="0.32" stroke-linejoin="round"/>
<polygon points="651.8,364.7 657.0,364.7 695.5,375.6 694.9,377.9 697.8,386.0 699.0,390.6 696.1,394.0 694.6,406.7 707.0,408.4 697.8,419.5 693.8,427.6 692.6,437.9 680.6,443.1 677.7,447.7 670.2,442.5 653.0,429.9 647.2,420.7 638.3,413.8 641.5,400.0 645.5,386.0 644.9,375.6" fill="#bdd3fb" stroke="#666" stroke-width="0.32" stroke-linejoin="round"/>
<polygon points="707.0,408.4 710.0,409.2 729.0,409.8 734.7,412.6 738.2,414.9 737.6,419.5 739.3,420.7 738.2,425.3 743.3,432.2 746.5,439.3 749.2,443.2 751.4,448.0 750.9,452.5 752.5,455.6 752.0,463.2 751.6,465.0 749.9,469.6 748.2,473.0 745.9,475.9 743.0,477.6 737.2,475.3 728.0,471.9 720.0,467.9 705.9,459.8 694.4,451.7 677.7,447.7 680.6,443.1 692.6,437.9 693.8,427.6 697.8,419.5" fill="#c29bd8" stroke="#666" stroke-width="0.32" stroke-linejoin="round"/>
<polygon points="735.1,406.7 742.5,407.8 749.4,410.1 760.0,411.5 763.4,417.2 764.6,420.1 762.3,425.3 766.3,423.0 770.9,422.4 773.8,429.9 772.4,434.8 766.4,436.9 754.9,438.0 746.5,439.3 743.3,432.2 738.2,425.3 739.3,420.7 737.6,419.5 738.2,414.9" fill="#ffffff" stroke="#666" stroke-width="0.32" stroke-linejoin="round"/>
<polygon points="760.0,411.5 763.8,410.7 767.6,407.5 769.9,410.5 779.0,413.5 781.8,417.2 783.6,423.0 784.1,428.7 786.4,435.6 785.6,440.0 787.7,442.6 783.1,444.4 776.8,446.7 773.9,439.2 772.4,434.8 773.8,429.9 770.9,422.4 766.3,423.0 762.3,425.3 764.6,420.1 763.4,417.2" fill="#bdd3fb" stroke="#666" stroke-width="0.32" stroke-linejoin="round"/>
<polygon points="746.5,439.3 754.9,438.0 766.4,436.9 772.4,434.8 773.9,439.2 776.8,446.7 776.8,450.7 773.3,454.7 769.9,457.0 764.7,457.6 760.7,454.7 752.5,455.6 750.9,452.5 751.4,448.0 749.2,443.2" fill="#c56ff3" stroke="#666" stroke-width="0.32" stroke-linejoin="round"/>
<polygon points="776.8,446.7 783.1,444.4 787.7,442.6 789.4,449.5 802.6,447.2 805.5,446.7 811.8,451.3 811.3,458.7 809.5,465.6 802.6,464.5 800.3,465.1 791.1,462.2 788.3,464.5 786.6,462.8 781.4,466.8 779.7,466.2 776.8,459.9 773.3,454.7 776.8,450.7" fill="#bdd3fb" stroke="#666" stroke-width="0.32" stroke-linejoin="round"/>
<polygon points="752.5,455.6 760.7,454.7 764.7,457.6 769.9,457.0 773.3,454.7 776.8,459.9 779.7,466.2 775.6,469.7 771.6,470.2 771.0,467.9 765.9,470.8 765.0,473.6 762.2,470.0 757.6,469.4 753.3,470.7 751.6,465.0 752.0,463.2" fill="#b3f7de" stroke="#666" stroke-width="0.32" stroke-linejoin="round"/>
<polygon points="748.2,473.0 753.3,470.7 757.6,469.4 762.2,470.0 765.0,473.6 763.7,477.4 763.0,481.0 760.0,484.3 757.0,485.8 751.6,482.2 748.7,479.9 747.0,476.5" fill="#b3f7de" stroke="#666" stroke-width="0.32" stroke-linejoin="round"/>
<polygon points="743.0,477.6 747.0,476.5 748.7,479.9 751.6,482.2 749.3,485.1 747.0,488.0 745.9,492.0 739.5,490.9 740.7,486.8 744.1,483.4 742.4,479.9" fill="#c29bd8" stroke="#666" stroke-width="0.32" stroke-linejoin="round"/>
<polygon points="765.0,473.6 765.9,470.8 771.0,467.9 771.6,470.2 775.6,469.7 779.7,466.2 781.4,466.8 786.6,462.8 788.3,464.5 791.1,462.2 790.0,466.8 790.6,472.5 796.3,477.1 797.5,480.6 794.0,478.3 790.6,479.4 788.3,484.0 787.2,485.1 782.6,487.4 775.2,486.8 768.3,485.5 762.5,487.4 760.0,484.3 763.0,481.0 763.7,477.4" fill="#bdd3fb" stroke="#666" stroke-width="0.32" stroke-linejoin="round"/>
<polygon points="791.1,462.2 800.3,465.1 802.6,464.5 809.5,465.6 808.5,471.9 807.4,479.9 805.1,488.0 804.5,493.7 803.3,499.5 802.2,500.1 797.0,501.2 790.1,499.5 789.5,495.5 785.5,493.7 786.7,489.7 787.2,485.1 788.3,484.0 790.6,479.4 794.0,478.3 797.5,480.6 796.3,477.1 790.6,472.5 790.0,466.8" fill="#b3f7de" stroke="#666" stroke-width="0.32" stroke-linejoin="round"/>
<polygon points="762.5,487.4 768.3,485.5 775.2,486.8 782.6,487.4 779.8,489.7 775.2,492.6 771.7,495.5 766.0,496.0 762.5,498.3 761.4,492.6" fill="#c29bd8" stroke="#666" stroke-width="0.32" stroke-linejoin="round"/>
<polygon points="762.5,498.3 766.0,496.0 771.7,495.5 775.2,492.6 779.8,489.7 782.6,487.4 787.2,485.1 786.7,489.7 785.5,493.7 789.5,495.5 790.1,499.5 784.9,502.9 779.8,504.7 774.0,508.1 767.1,511.6 763.1,509.3 759.7,503.5" fill="#b3f7de" stroke="#666" stroke-width="0.32" stroke-linejoin="round"/>
<polygon points="763.1,509.3 767.1,511.6 774.0,508.1 779.8,504.7 784.9,502.9 790.1,499.5 797.0,501.2 802.2,500.1 802.8,504.1 799.3,511.0 793.6,516.7 787.8,520.2 782.1,524.8 775.2,527.6 768.3,529.9 759.7,527.1 762.5,522.5 762.0,514.4" fill="#bdd3fb" stroke="#666" stroke-width="0.32" stroke-linejoin="round"/>
<polygon points="747.0,488.0 749.3,485.1 751.6,482.2 757.0,485.8 760.0,484.3 762.5,487.4 761.4,492.6 762.5,498.3 759.7,503.5 753.3,504.1 748.7,508.1 741.3,504.1 743.0,500.6 746.4,498.3 745.9,492.0" fill="#c56ff3" stroke="#666" stroke-width="0.32" stroke-linejoin="round"/>
<polygon points="741.3,504.1 748.7,508.1 753.3,504.1 759.7,503.5 763.1,509.3 762.0,514.4 762.5,522.5 759.7,527.1 754.5,527.6 749.9,525.3 752.8,520.2 747.6,517.3 743.6,512.1 742.4,508.1" fill="#fb98e0" stroke="#666" stroke-width="0.32" stroke-linejoin="round"/>
<polygon points="739.5,490.9 745.9,492.0 746.4,498.3 743.0,500.6 741.3,504.1 742.4,508.1 743.6,512.1 747.6,517.3 752.8,520.2 749.9,525.3 745.9,526.5 739.0,524.2 732.6,523.0 724.6,523.6 722.3,521.3 726.3,516.7 730.3,511.0 731.5,502.9 734.9,497.2 738.4,493.2" fill="#ffffff" stroke="#666" stroke-width="0.32" stroke-linejoin="round"/>
<text x="714" y="374.6" text-anchor="middle" class="dl">ALTO PARAGUAY</text>
<text x="667.5" y="404.4" text-anchor="middle" class="dl">BOQUERON</text>
<text x="719.5" y="438.9" text-anchor="middle" class="dl">PRESIDENTE HAYES</text>
<text x="750.6" y="424.4" text-anchor="middle" class="dl">CONCEPCION</text>
<text x="777.2" y="421.6" text-anchor="middle" class="dl">AMAMBAY</text>
<text x="763.2" y="446.6" text-anchor="middle" class="dl">S. PDRO. NORTE</text>
<text x="792" y="455.8" text-anchor="middle" class="dl">CANINDEYU</text>
<text x="764.4" y="465.2" text-anchor="middle" class="dl">S. PDRO. SUR</text>
<text x="756" y="474.6" text-anchor="middle" class="dl">CORDILLERA</text>
<text x="745.6" y="484.9" text-anchor="middle" class="dl">CENTRAL</text>
<text x="777" y="478.2" text-anchor="middle" class="dl">CAAGUAZU</text>
<text x="795.6" y="490.5" text-anchor="middle" class="dl">ALTO PARANA</text>
<text x="771.2" y="490.2" text-anchor="middle" class="dl">GUAIRA</text>
<text x="776" y="500.4" text-anchor="middle" class="dl">CAAZAPA</text>
<text x="780" y="513.9" text-anchor="middle" class="dl">ITAPUA</text>
<text x="753.2" y="496.4" text-anchor="middle" class="dl">PARAGUARI</text>
<text x="753.6" y="515.6" text-anchor="middle" class="dl">MISIONES</text>
<text x="735.4" y="515.4" text-anchor="middle" class="dl">ÑEEMBUCU</text>
<text x="763.2" y="454.2" text-anchor="middle" class="dl">SAN PEDRO</text>
<text x="742.6" y="479.4" text-anchor="middle" class="dl">ASUNCION</text>
<path d="M743.1 391.5 V403.5 M741.6 394 L743.1 391 L744.6 394 M741.7 398.6 L744.5 398.6 L743.1 401.2 Z" fill="none" stroke="#444" stroke-width="0.4"/>
<text x="766.8" y="332.1" text-anchor="middle" class="mt">ARBOVIROSIS</text>
<text x="763.6" y="340.3" text-anchor="middle" class="mt">Identificación de Circulación Viral</text>
<text x="763.6" y="347.7" text-anchor="middle" class="mt">por departamentos.</text>
<text x="763.8" y="361.9" text-anchor="middle" class="mt">Año 2022</text>
<text x="646.1" y="455.6" class="lg1" textLength="29.9" lengthAdjust="spacingAndGlyphs">Referencias</text>
<text x="646.1" y="464.4" class="lg2" textLength="47.7" lengthAdjust="spacingAndGlyphs">IDENTIFICACIÓN DE</text>
<text x="646.1" y="471.3" class="lg2" textLength="56.9" lengthAdjust="spacingAndGlyphs">CASOS DE ARBOVIROSIS</text>
<rect x="646.3" y="474.5" width="10.4" height="4.8" fill="#c56ff3" stroke="#999" stroke-width="0.3"/>
<text x="659.1" y="478.2" class="lg3">CHIKV</text>
<rect x="646.3" y="481.6" width="10.4" height="4.8" fill="#bdd3fb" stroke="#999" stroke-width="0.3"/>
<text x="659.1" y="485.3" class="lg3">DENGUE</text>
<rect x="646.3" y="488.6" width="10.4" height="4.8" fill="#c29bd8" stroke="#999" stroke-width="0.3"/>
<text x="659.1" y="492.3" class="lg3">DENGUE y CHIKV</text>
<rect x="646.3" y="495.9" width="10.4" height="4.8" fill="#fb98e0" stroke="#999" stroke-width="0.3"/>
<text x="659.1" y="499.6" class="lg3">PROBABLE CHIKV</text>
<rect x="646.3" y="503.1" width="10.4" height="4.8" fill="#b3f7de" stroke="#999" stroke-width="0.3"/>
<text x="659.1" y="506.8" class="lg3">PROBABLE DENGUE</text>
<rect x="646.3" y="510.4" width="10.4" height="4.8" fill="#ffffff" stroke="#999" stroke-width="0.3"/>
<text x="659.1" y="514.1" class="lg3">SIN CASOS DE ARBOVIROSIS</text>
<text x="732.2" y="535.3" class="sc">0</text><text x="741.3" y="535.3" class="sc">50</text><text x="750.6" y="535.3" class="sc">100</text><text x="770.5" y="535.3" class="sc">200 Kilometers</text>
<path d="M732.6 538.2 H773.4" stroke="#555" stroke-width="0.4" stroke-dasharray="1.2 1.35"/>
<path d="M732.6 537.2 V539.2 M742.8 537.2 V539.2 M753 537.2 V539.2 M773.4 537.2 V539.2" stroke="#555" stroke-width="0.4"/>
<ellipse cx="123.4" cy="147.1" rx="10.5" ry="12.2" fill="#3a5cfb"/>
<polygon points="116.95,140.93 118.97,139.78 122.41,139.49 125.29,139.78 127.30,140.93 128.16,142.66 127.01,143.80 125.86,145.24 125.00,146.39 123.85,147.25 124.43,148.40 125.29,148.98 124.14,149.26 122.70,147.83 121.55,146.39 120.11,144.38 118.68,142.66 117.53,142.08" fill="#fff"/>
<polygon points="124.14,148.40 126.15,148.69 128.45,149.84 129.60,150.99 128.74,152.71 127.59,154.15 126.44,155.59 125.75,156.45 125.17,155.01 124.83,152.71 124.14,150.70 123.68,149.26" fill="#fff"/>
<polygon points="122.99,141.51 124.71,141.10 125.29,142.08 123.85,142.66" fill="#3a5cfb"/>
<polygon points="107.18,145.24 108.62,143.40 111.49,142.94 113.79,144.38 114.66,146.97 115.23,148.69 117.82,148.98 120.11,150.41 120.40,153.29 119.54,155.59 118.97,157.89 116.67,159.32 114.08,158.75 115.23,156.16 114.66,153.86 112.36,152.43 109.48,150.99 107.18,148.69" fill="#fb2a1c"/>
<text x="117.3" y="153.5" text-anchor="middle" style="font-size:3.6px;font-weight:bold;fill:#fff" textLength="6.3" lengthAdjust="spacingAndGlyphs">CIU</text>
<text x="138.7" y="146.0" class="l1a" textLength="83.5" lengthAdjust="spacing">DIRECCIÓN DE VIGILANCIA Y RESPUESTA A</text>
<text x="138.7" y="151.9" class="l1b" textLength="83.5" lengthAdjust="spacing">EMERGENCIAS EN SALUD PÚBLICA</text>
<g transform="rotate(-12 313.3 142.3)"><ellipse cx="313.3" cy="142.3" rx="6.6" ry="8.2" fill="#2c8fd2"/><path d="M306.9 140.3 H319.7 M306.9 144.6 H319.7 M310.6 134.6 V150 M315.6 134.4 V150.2" stroke="#d9eefc" stroke-width="0.55" fill="none"/><ellipse cx="313.3" cy="142.3" rx="6.6" ry="8.2" fill="none" stroke="#1f6fae" stroke-width="0.5"/></g>
<polyline points="307.07,135.64 306.26,140.07 302.64,141.27 301.28,144.09 300.79,148.11 303.05,151.33 307.07,152.94 310.69,154.95 309.48,157.77 308.52,160.58 310.29,162.43 313.91,161.39 315.76,158.17 316.88,154.55 316.08,152.14 314.31,150.93" fill="none" stroke="#982424" stroke-width="0.8" stroke-linejoin="round"/>
<text x="324.2" y="150.1" class="dg" textLength="33.2" lengthAdjust="spacingAndGlyphs">DGVS</text>
<text x="321.2" y="155.4" class="dgp" textLength="35.5" lengthAdjust="spacingAndGlyphs">Paraguay</text>
<g transform="translate(454.4 146.85) scale(1.1 1)"><circle r="16.3" fill="#fff" stroke="#3a3a5c" stroke-width="0.9"/><circle r="14.6" fill="none" stroke="#4a4a6e" stroke-width="0.4"/><circle r="9.3" fill="none" stroke="#6a6a88" stroke-width="0.35"/><path id="sealarc" d="M -9.6 6.4 A 11.55 11.55 0 1 1 9.6 6.4" fill="none"/><text class="seal"><textPath href="#sealarc" startOffset="50%" text-anchor="middle">REPÚBLICA DEL PARAGUAY</textPath></text><path d="M -2.2 -6.6 A 7 7 0 0 0 -3.6 6.2" fill="none" stroke="#3e3e68" stroke-width="2.0" stroke-linecap="round"/><path d="M 2.6 -6.5 A 7 7 0 0 1 4.2 5.8" fill="none" stroke="#4a4a74" stroke-width="1.8" stroke-linecap="round" stroke-dasharray="1.9 0.5"/><path d="M -3.6 6.2 A 7 7 0 0 0 4.2 5.8" fill="none" stroke="#6a6a8c" stroke-width="0.8"/><polygon fill="#1e1e46" points="0.00,-2.90 0.68,-0.93 2.76,-0.90 1.09,0.36 1.70,2.35 0.00,1.15 -1.70,2.35 -1.09,0.36 -2.76,-0.90 -0.68,-0.93"/></g>
<text x="480.3" y="139.9" class="mn">Ministerio de</text>
<text x="480.2" y="148.5" class="sp" textLength="69" lengthAdjust="spacingAndGlyphs">SALUD PÚBLICA</text>
<text x="480.2" y="156.3" class="sp" textLength="91" lengthAdjust="spacingAndGlyphs">Y BIENESTAR SOCIAL</text>
<rect x="588.1" y="138.3" width="4.9" height="5.1" fill="#dc2a2e"/>
<rect x="588.1" y="150.3" width="4.9" height="5.1" fill="#2c3a8e"/>
<text x="600.7" y="145.7" class="gb" textLength="64" lengthAdjust="spacingAndGlyphs">GOBIERNO</text>
<text x="600.7" y="155.8" class="gb" textLength="63.6" lengthAdjust="spacingAndGlyphs">NACIONAL</text>
<text x="687.6" y="142.6" class="pg" textLength="40.5" lengthAdjust="spacingAndGlyphs" transform="rotate(-4 687.6 142.6)">Paraguay</text>
<text x="700.3" y="155.6" class="pg" textLength="46" lengthAdjust="spacingAndGlyphs" transform="rotate(-3 700.3 155.6)">de la gente</text>
</svg>
</body></html>
